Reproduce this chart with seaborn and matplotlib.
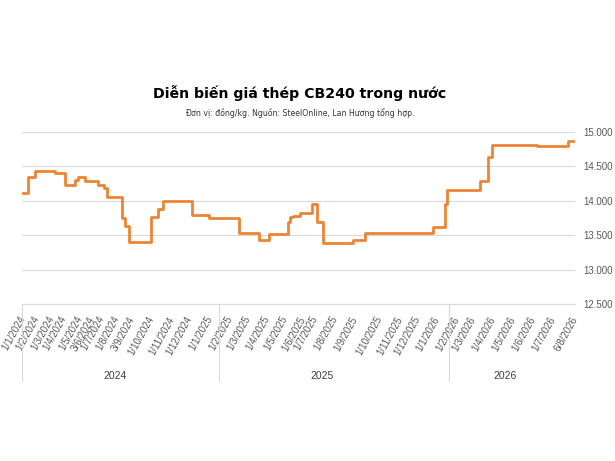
import matplotlib
matplotlib.use("Agg")
import matplotlib.pyplot as plt
import matplotlib.transforms as mtransforms
from matplotlib.ticker import FuncFormatter, MultipleLocator
import seaborn as sns
import pandas as pd

# Price change points (position on the category axis, price in dong/kg)
change_pos = [0, 1.2, 2.5, 6.5, 8.5, 10.6, 11.2, 12.6, 15.2, 16.4, 17.0, 20.0,
              20.6, 21.4, 25.8, 27.2, 28.2, 34.0, 37.4, 43.4, 47.4, 49.4, 53.2,
              53.6, 54.2, 55.6, 58.0, 59.0, 60.2, 66.2, 68.6, 82.2, 84.6, 85.0,
              91.6, 93.2, 94.0, 103.0, 109.2, 110.4]
price = [14120, 14340, 14430, 14400, 14230, 14300, 14350, 14280, 14230, 14190,
         14050, 13750, 13640, 13410, 13760, 13880, 14000, 13800, 13750, 13540,
         13430, 13520, 13700, 13760, 13780, 13820, 13950, 13690, 13390, 13430,
         13540, 13620, 13950, 14160, 14290, 14640, 14810, 14790, 14870, 14870]

# Date labels on the x axis and their positions
date_labels = ["1/1/2024", "1/2/2024", "1/3/2024", "1/4/2024", "1/5/2024",
               "3/6/2024", "1/7/2024", "1/8/2024", "3/9/2024", "1/10/2024",
               "1/11/2024", "1/12/2024", "1/1/2025", "1/2/2025", "1/3/2025",
               "1/4/2025", "1/5/2025", "1/6/2025", "1/7/2025", "1/8/2025",
               "1/9/2025", "1/10/2025", "1/11/2025", "1/12/2025", "1/1/2026",
               "1/2/2026", "1/3/2026", "1/4/2026", "1/5/2026", "1/6/2026",
               "1/7/2026", "6/8/2026"]
date_pos = [0.2, 3, 6, 8.4, 11.6, 14, 16, 19, 22, 26, 30, 33.6, 37.6, 41.6, 45.2,
            49, 52.6, 56.2, 58.6, 62.6, 66.6, 71.6, 75.6, 79.2, 83, 87, 90.2,
            94.2, 98.2, 102.2, 106.2, 110.6]

years = ["2024", "2025", "2026"]
year_label_pos = [18.6, 60, 96.6]
year_bounds = [0, 39.4, 85.4]

df = pd.DataFrame({"pos": change_pos, "price": price})

sns.set_style("white")
plt.rcParams["font.family"] = ["DejaVu Sans"]
axis_font = "Liberation Sans"

fig = plt.figure(figsize=(6.15, 4.61), dpi=100)
ax = fig.add_axes([0.0358, 0.3395, 0.899, 0.3748])

sns.lineplot(data=df, x="pos", y="price", ax=ax, color="#EE8433",
             linewidth=2.0, drawstyle="steps-post", sort=False)

ax.set_xlim(0, 110.6)
ax.set_ylim(12500, 15000)
ax.set_xlabel("")
ax.set_ylabel("")

# Gridlines
ax.yaxis.set_major_locator(MultipleLocator(500))
ax.grid(axis="y", color="#d9d9d9", linewidth=0.8)
ax.set_axisbelow(True)
for s in ["left", "right", "top"]:
    ax.spines[s].set_visible(False)
ax.spines["bottom"].set_color("#d9d9d9")
ax.spines["bottom"].set_linewidth(0.8)

# Right-hand y axis
ax.yaxis.tick_right()
ax.yaxis.set_major_formatter(FuncFormatter(lambda v, p: f"{v:,.0f}".replace(",", ".")))
ax.tick_params(axis="y", length=0, pad=6, labelsize=7, labelcolor="#595959")
for t in ax.get_yticklabels():
    t.set_fontfamily(axis_font)

# X axis labels
ax.set_xticks(date_pos)
ax.set_xticklabels(date_labels, rotation=61, ha="right", va="center",
                   rotation_mode="anchor", fontsize=7, color="#595959",
                   fontfamily=axis_font)
ax.xaxis.set_minor_locator(MultipleLocator(1))
ax.tick_params(axis="x", which="major", length=0, pad=9)
ax.tick_params(axis="x", which="minor", length=3, color="#d9d9d9", width=0.6)

# Year groups below the date labels
trans = mtransforms.blended_transform_factory(ax.transData, ax.transAxes)
for b in year_bounds:
    ax.plot([b, b], [0, -0.44], transform=trans, color="#d9d9d9",
            linewidth=0.8, clip_on=False)
for y, xp in zip(years, year_label_pos):
    ax.text(xp, -0.414, y, transform=trans, ha="center", va="center",
            fontsize=7.5, color="#404040", fontfamily=axis_font)

fig.text(0.488, 0.798, "Diễn biến giá thép CB240 trong nước", ha="center",
         va="center", fontsize=10.2, fontweight="bold", color="#000000")
fig.text(0.488, 0.755, "Đơn vị: đồng/kg. Nguồn: SteelOnline, Lan Hương tổng hợp.",
         ha="center", va="center", fontsize=5.6, color="#333333")

fig.savefig("out.png", dpi=100, facecolor="white")
